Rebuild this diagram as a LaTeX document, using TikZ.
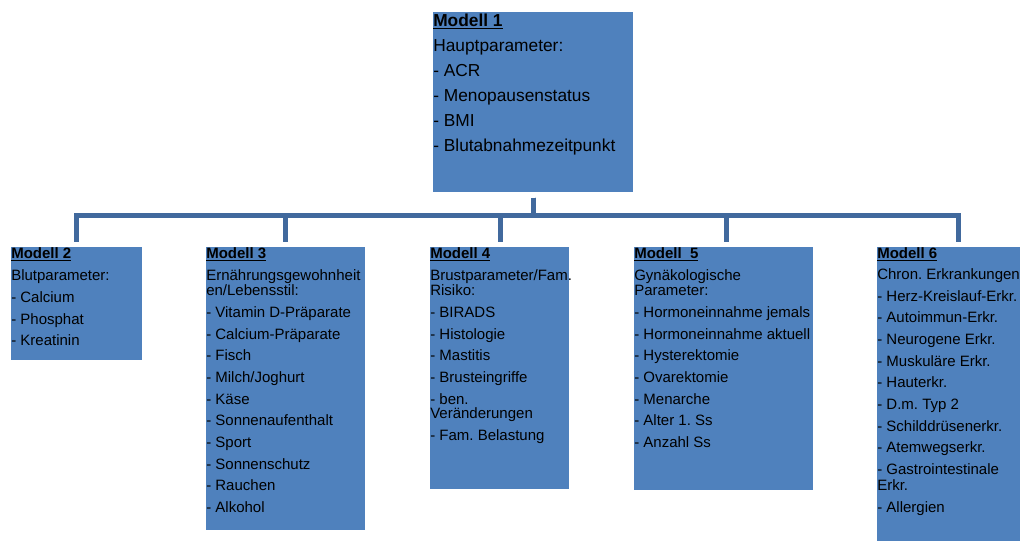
\documentclass[tikz,border=0pt]{standalone}
\usepackage{fontspec}
\setmainfont{Liberation Sans}
\frenchspacing
\definecolor{BoxBlue}{HTML}{4F81BD}
\definecolor{LineBlue}{HTML}{41699D}

\begin{document}
\begin{tikzpicture}[x=0.75pt,y=-0.75pt,
box/.style 2 args={fill=BoxBlue,minimum width=#1*0.75pt,minimum height=#2*0.75pt,
  anchor=north west,inner sep=0pt},
txt/.style={anchor=north west,inner sep=0pt,align=left,
  font=\fontsize{11.25}{11}\selectfont},
conn/.style={draw=LineBlue,line width=3.75pt,shorten <=3.75pt,shorten >=3.75pt}]
\useasboundingbox (0,0) rectangle (1020,541);
% boxes
\node[box={200}{180}] (m1) at (433,12) {};
\node[box={131}{113}] (m2) at (11,247) {};
\node[box={159}{283}] (m3) at (206,247) {};
\node[box={139}{242}] (m4) at (430,247) {};
\node[box={179}{243}] (m5) at (634,247) {};
\node[box={143}{294}] (m6) at (877,247) {};
% texts
\node[txt,font=\fontsize{13}{18.75}\selectfont] (t1) at ([yshift=-1pt]m1.north west)
  {\underline{\textbf{Modell 1}}\\ Hauptparameter:\\ - ACR\\ - Menopausenstatus\\
   - BMI\\ - Blutabnahmezeitpunkt};
\node[txt] (t2) at (m2.north west)
  {\underline{\textbf{Modell 2}}\\[6pt] Blutparameter:\\[5.25pt] - Calcium\\[5.25pt]
   - Phosphat\\[5.25pt] - Kreatinin};
\node[txt] (t3) at (m3.north west)
  {\underline{\textbf{Modell 3}}\\[6pt] Ernährungsgewohnheit\\ en/Lebensstil:\\[5.5pt]
   - Vitamin D-Präparate\\[5.25pt] - Calcium-Präparate\\[5.25pt] - Fisch\\[5.25pt]
   - Milch/Joghurt\\[5.25pt] - Käse\\[5.25pt] - Sonnenaufenthalt\\[5.25pt] - Sport\\[5.25pt]
   - Sonnenschutz\\[5.25pt] - Rauchen\\[5.25pt] - Alkohol};
\node[txt] (t4) at (m4.north west)
  {\underline{\textbf{Modell 4}}\\[6pt] Brustparameter/Fam.\\ Risiko:\\[5.5pt]
   - BIRADS\\[5.25pt] - Histologie\\[5.25pt] - Mastitis\\[5.25pt] - Brusteingriffe\\[5.25pt]
   - ben.\\ Veränderungen\\[5.25pt] - Fam. Belastung};
\node[txt] (t5) at (m5.north west)
  {\underline{\textbf{Modell\ \ 5}}\\[6pt] Gynäkologische\\ Parameter:\\[5.5pt]
   - Hormoneinnahme jemals\\[5.25pt] - Hormoneinnahme aktuell\\[5.25pt]
   - Hysterektomie\\[5.25pt] - Ovarektomie\\[5.25pt] - Menarche\\[5.25pt]
   - Alter 1. Ss\\[5.25pt] - Anzahl Ss};
\node[txt] (t6) at (m6.north west)
  {\underline{\textbf{Modell 6}}\\[5pt] Chron. Erkrankungen\\[5.25pt]
   - Herz-Kreislauf-Erkr.\\[5.25pt] - Autoimmun-Erkr.\\[5.25pt] - Neurogene Erkr.\\[5.25pt]
   - Muskuläre Erkr.\\[5.25pt] - Hauterkr.\\[5.25pt] - D.m. Typ 2\\[5.25pt]
   - Schilddrüsenerkr.\\[5.25pt] - Atemwegserkr.\\[5.25pt] - Gastrointestinale\\[1pt]
   Erkr.\\[5.5pt] - Allergien};
% connectors
\foreach \m/\dx in {m2/0,m3/0,m4/1,m5/3,m6/10}
  \draw[conn] (m1.south) -- ++(0,23) -| ([xshift=\dx*0.75pt]\m.north);
\end{tikzpicture}
\end{document}
